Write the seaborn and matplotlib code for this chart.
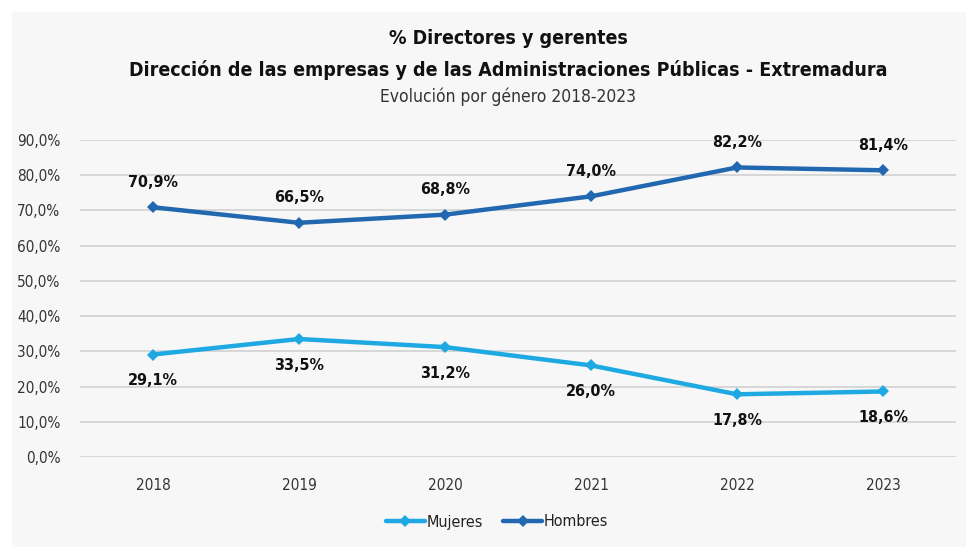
import matplotlib
matplotlib.use("Agg")
import matplotlib.pyplot as plt
import seaborn as sns
import pandas as pd
from matplotlib.patches import Rectangle
from matplotlib.lines import Line2D
from matplotlib import font_manager

years = ["2018", "2019", "2020", "2021", "2022", "2023"]
mujeres = [29.1, 33.5, 31.2, 26.0, 17.8, 18.6]
hombres = [70.9, 66.5, 68.8, 74.0, 82.2, 81.4]
series_names = ["Mujeres", "Hombres"]
yticks = [0, 10, 20, 30, 40, 50, 60, 70, 80, 90]

sns.set_theme(style="white")
names = {f.name for f in font_manager.fontManager.ttflist}
if "DejaVu Sans Condensed" in names:
    plt.rcParams['font.family'] = ['DejaVu Sans Condensed', 'DejaVu Sans']
else:
    plt.rcParams['font.family'] = ['DejaVu Sans']
    plt.rcParams['font.stretch'] = 'condensed'

df = pd.DataFrame({
    "x": list(range(len(years))) * 2,
    "valor": mujeres + hombres,
    "serie": [series_names[0]] * len(years) + [series_names[1]] * len(years),
})

colors = {"Mujeres": "#1fa9e3", "Hombres": "#2268b0"}

fig = plt.figure(figsize=(9.66, 5.47), dpi=100)
fig.patch.set_facecolor("white")
fig.patches.append(Rectangle((12 / 966, 0), 1, (547 - 12) / 547, transform=fig.transFigure,
                             facecolor="#f7f7f7", edgecolor="none", zorder=-10))

ax = fig.add_axes([80 / 966, (547 - 457) / 547, 876 / 966, 317 / 547])
ax.set_facecolor("#f7f7f7")

sns.lineplot(data=df, x="x", y="valor", hue="serie", palette=colors, style="serie",
             markers={"Mujeres": "D", "Hombres": "D"}, dashes=False, linewidth=3.2,
             markersize=6, markeredgewidth=0, ax=ax, legend=False)

ax.set_xlim(-0.5, len(years) - 0.5)
ax.set_ylim(0, 90)
ax.set_yticks(yticks)
ax.set_yticklabels([f"{v:.1f}".replace(".", ",") + "%" for v in yticks])
ax.set_xticks(range(len(years)))
ax.set_xticklabels(years)
ax.tick_params(axis="y", length=0, pad=14, labelsize=11, labelcolor="#333333")
ax.tick_params(axis="x", length=0, pad=15, labelsize=11, labelcolor="#333333")
ax.yaxis.grid(True, color="#d4d4d4", linewidth=1.3)
ax.xaxis.grid(False)
for s in ax.spines.values():
    s.set_visible(False)
ax.set_xlabel("")
ax.set_ylabel("")

for i, v in enumerate(hombres):
    ax.annotate(f"{v:.1f}".replace(".", ",") + "%", (i, v), xytext=(0, 18), textcoords="offset points",
                ha="center", va="center", fontsize=11.5, fontweight="bold", color="#111111",
                annotation_clip=False)
for i, v in enumerate(mujeres):
    ax.annotate(f"{v:.1f}".replace(".", ",") + "%", (i, v), xytext=(0, -19), textcoords="offset points",
                ha="center", va="center", fontsize=11.5, fontweight="bold", color="#111111",
                annotation_clip=False)

tx = 508 / 966
fig.text(tx, (547 - 38) / 547, "% Directores y gerentes", ha="center", va="center",
         fontsize=14, fontweight="bold", color="#111111")
fig.text(tx, (547 - 70) / 547, "Dirección de las empresas y de las Administraciones Públicas - Extremadura",
         ha="center", va="center", fontsize=14, fontweight="bold", color="#111111")
fig.text(tx, (547 - 97) / 547, "Evolución por género 2018-2023", ha="center", va="center",
         fontsize=12.5, color="#333333")

handles = [Line2D([], [], color=colors[n], linewidth=3.2, marker="D", markersize=6,
                  markeredgewidth=0) for n in series_names]
fig.legend(handles, series_names, loc="center", bbox_to_anchor=(497 / 966, (547 - 522) / 547),
           ncol=2, frameon=False, fontsize=11.5, handlelength=2.4, handletextpad=0.1,
           columnspacing=1.3, labelcolor="#222222")

fig.savefig("out.png", dpi=100, facecolor=fig.get_facecolor())
